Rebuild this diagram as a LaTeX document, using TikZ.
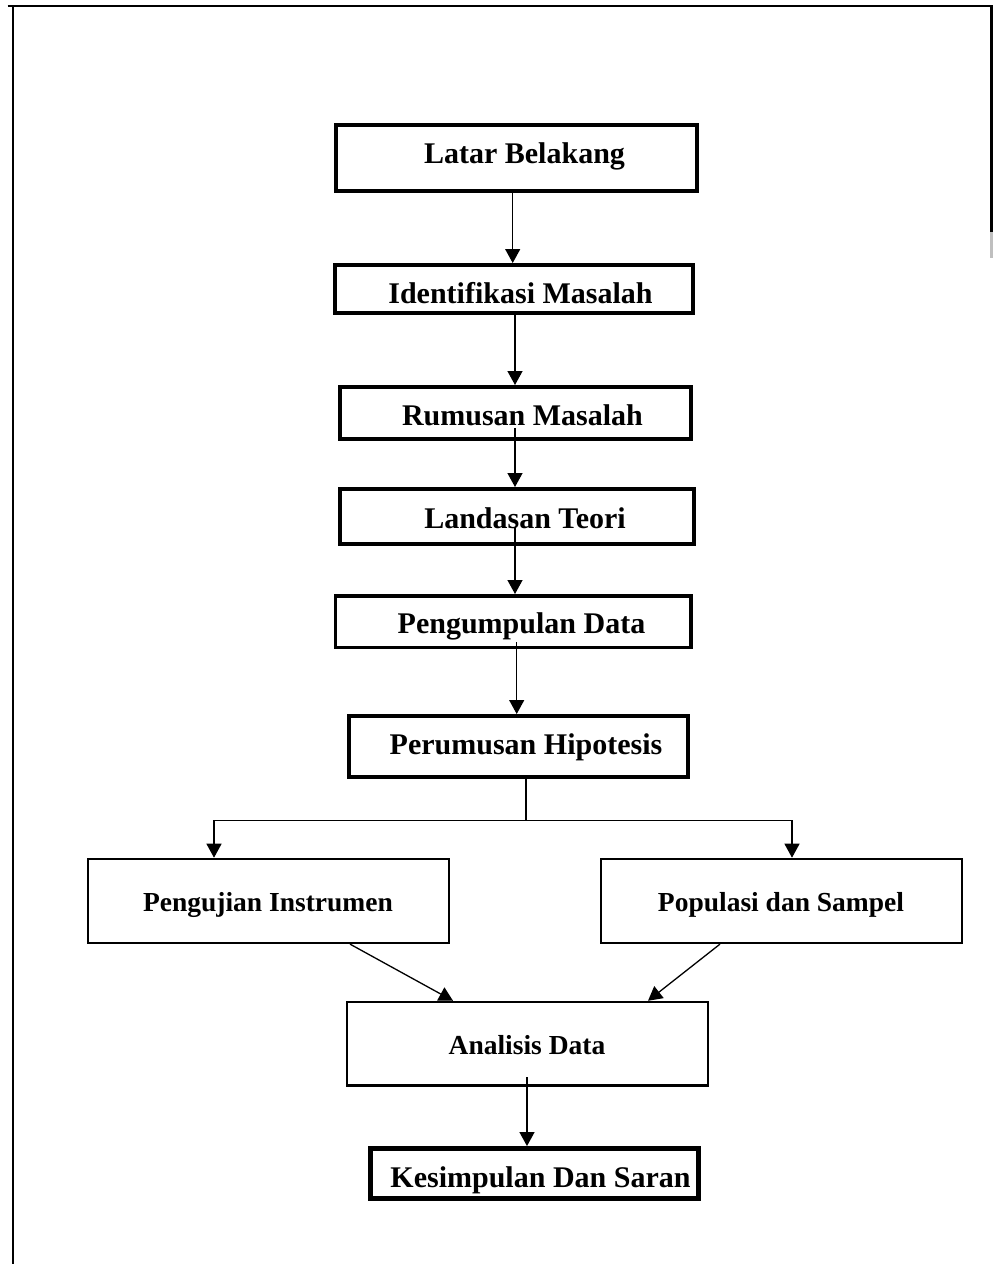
\documentclass[tikz,border=0pt]{standalone}
\usepackage{fontspec}
\setmainfont{Liberation Serif}
\usetikzlibrary{arrows.meta}
\begin{document}
\begin{tikzpicture}[x=1pt,y=-1pt,
  thickbox/.style={draw, line width=4pt, minimum width=#1, inner sep=0pt},
  thinbox/.style={draw, line width=2.4pt, inner sep=0pt},
  bigtext/.style={anchor=base, font=\fontsize{30}{36}\selectfont\bfseries, inner sep=0pt},
  smalltext/.style={anchor=base, font=\fontsize{27.5}{33}\selectfont\bfseries, inner sep=0pt},
  arr/.style={line width=1.3pt, -{Triangle[width=15pt,length=14pt]}},
  conn/.style={line width=1.3pt}]
\useasboundingbox (0,0) rectangle (994,1264);
% frame
\draw[line width=2.6pt] (7.6,6) -- (990.7,6);
\draw[line width=2pt] (12.7,5) -- (12.7,1264);
\draw[line width=2.6pt] (991.5,5) -- (991.5,232);
\draw[line width=2.6pt, gray!50] (991.5,232) -- (991.5,258);
% boxes
\node[thickbox=361pt, minimum height=66pt] (latar) at (516.5,158) {};
\node[thickbox=358pt, minimum height=48pt] (ident) at (514,289) {};
\node[thickbox=350.7pt, minimum height=52pt] (rumusan) at (515.3,413) {};
\node[thickbox=354pt, minimum height=55pt] (landasan) at (517,516.5) {};
\node[draw, line width=3.5pt, inner sep=0pt, minimum width=355.2pt, minimum height=51.5pt] (pengumpulan) at (513.3,621.5) {};
\node[thickbox=339.5pt, minimum height=61pt] (perumusan) at (518.3,746.5) {};
\node[thinbox, minimum width=361pt, minimum height=84pt] (pengujian) at (268.3,900.9) {};
\node[thinbox, minimum width=361pt, minimum height=84pt] (populasi) at (781.2,900.9) {};
\node[thinbox, minimum width=360.5pt, minimum height=83.5pt] (analisis) at (527.5,1043.7) {};
\node[draw, line width=4.5pt, inner sep=0pt, minimum width=328pt, minimum height=50pt] (kesimpulan) at (534.3,1173.3) {};
% texts
\node[bigtext] (latar-t) at (524.5,163) {Latar Belakang};
\node[bigtext] (ident-t) at (520.5,303) {Identifikasi Masalah};
\node[bigtext] (rumusan-t) at (522.5,425) {Rumusan Masalah};
\node[bigtext] (landasan-t) at (525,528) {Landasan Teori};
\node[bigtext] (pengumpulan-t) at (521.5,633) {Pengumpulan Data};
\node[bigtext] (perumusan-t) at (526,754) {Perumusan Hipotesis};
\node[smalltext] (pengujian-t) at (268,911.7) {Pengujian Instrumen};
\node[smalltext] (populasi-t) at (781,911.7) {Populasi dan Sampel};
\node[smalltext] (analisis-t) at (527,1054) {Analisis Data};
\node[bigtext] (kesimpulan-t) at (540.5,1187) {Kesimpulan Dan Saran};
% connector columns / free ends
\coordinate (c1) at (512.7,0);
\coordinate (c2) at (515,0);
\coordinate (s3) at (515,428);
\coordinate (s4) at (515,527);
\coordinate (s5) at (516.7,642);
\coordinate (split) at (526,820.7);
\coordinate (bl) at (214,820.7);
\coordinate (br) at (792,820.7);
\coordinate (d1) at (350,0);
\coordinate (d2) at (453,0);
\coordinate (d3) at (720,0);
\coordinate (d4) at (648,0);
\coordinate (s9) at (527,1077);
% connectors
\draw[arr] (latar.south -| c1) -- (ident.north -| c1);
\draw[arr] (ident.south -| c2) -- (rumusan.north -| c2);
\draw[arr] (s3) -- (landasan.north -| s3);
\draw[arr] (s4) -- (pengumpulan.north -| s4);
\draw[arr] (s5) -- (perumusan.north -| s5);
\draw[conn] (perumusan.south -| split) -- (split);
\draw[arr] (split) -- (bl) -- (pengujian.north -| bl);
\draw[arr] (split) -- (br) -- (populasi.north -| br);
\draw[arr] (pengujian.south -| d1) -- (analisis.north -| d2);
\draw[arr] (populasi.south -| d3) -- (analisis.north -| d4);
\draw[arr] (s9) -- (kesimpulan.north -| s9);
\end{tikzpicture}
\end{document}
